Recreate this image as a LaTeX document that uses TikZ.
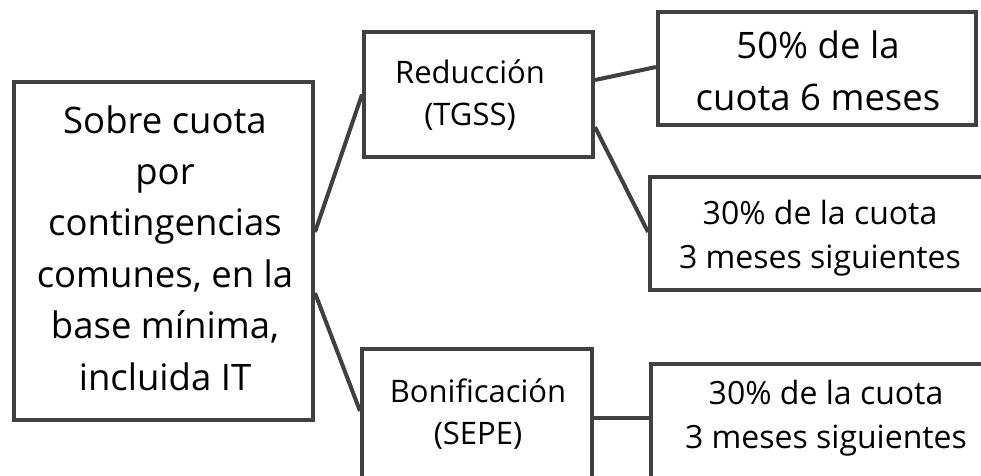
\documentclass[tikz,border=0pt]{standalone}
\usepackage{fontspec}
\setmainfont{Open Sans}
\definecolor{edge}{HTML}{404040}
\begin{document}
\begin{tikzpicture}[x=1pt,y=-1pt,
  box/.style={draw=edge, line width=4pt, rectangle, inner sep=0pt, fill=white},
  conn/.style={draw=edge, line width=4pt},
  txt/.style={anchor=base, align=center, inner sep=0pt, text=black},
  big/.style={font=\fontsize{36.5}{51.4}\selectfont},
  mid/.style={font=\fontsize{32}{44}\selectfont},
  sml/.style={font=\fontsize{31}{41.5}\selectfont}]
\useasboundingbox (0,0) rectangle (981,475);
\clip (0,0) rectangle (981,475);
\fill[white] (0,0) rectangle (981,475);
% boxes
\node[box, minimum width=299pt, minimum height=338pt] (L) at (163.5,251) {};
\node[box, minimum width=229pt, minimum height=125pt] (R) at (478.5,94.5) {};
\node[box, minimum width=230pt, minimum height=130pt] (B) at (477,414) {};
\node[box, minimum width=318pt, minimum height=113pt] (A) at (817,68.5) {};
\node[box, minimum width=344pt, minimum height=113pt] (C) at (822,233.5) {};
\node[box, minimum width=350pt, minimum height=126pt] (D) at (826,427) {};
% texts (anchored at the baseline of the last line)
\node[txt, big] (Lt) at (165,390) {Sobre cuota\\por\\contingencias\\comunes, en la\\base mínima,\\incluida IT};
\node[txt, sml] (Rt) at (470,125) {Reducción\\(TGSS)};
\node[txt, sml] (Bt) at (478,444) {Bonificación\\(SEPE)};
\node[txt, big] (At) at (818,110) {50\% de la\\cuota 6 meses};
\node[txt, mid] (Ct) at (820,268) {30\% de la cuota\\3 meses siguientes};
\node[txt, mid] (Dt) at (826,448) {30\% de la cuota\\3 meses siguientes};
% connectors
\draw[conn] ([yshift=19pt]L.east) -- (R.west);
\draw[conn] ([yshift=-42pt]L.east) -- ([yshift=3pt]B.west);
\draw[conn] ([yshift=14.5pt]R.east) -- ([yshift=1.5pt]A.west);
\draw[conn] ([yshift=-32.5pt]R.east) -- ([yshift=1.5pt]C.west);
\draw[conn] ([yshift=-4pt]B.east) -- ([yshift=9pt]D.west);
\end{tikzpicture}
\end{document}
